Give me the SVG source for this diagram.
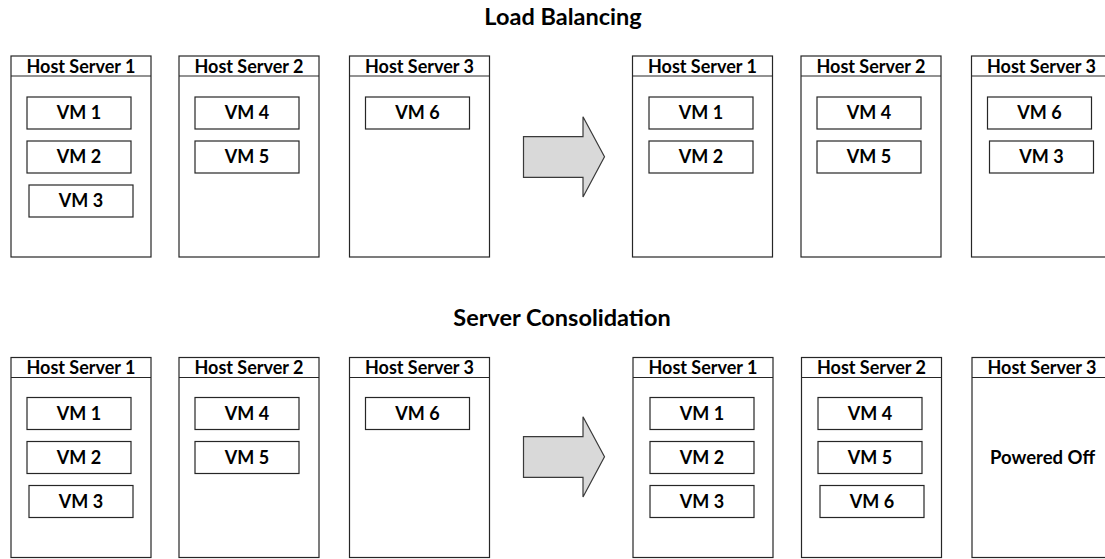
<svg xmlns="http://www.w3.org/2000/svg" width="1105" height="559" viewBox="0 0 1105 559">
  <style>
    .host { fill: #ffffff; stroke: #262626; stroke-width: 1.2; }
    .vm { fill: #ffffff; stroke: #262626; stroke-width: 1.2; }
    .hdr { stroke: #262626; stroke-width: 1.2; }
    text { font-family: Lato, "Liberation Sans", sans-serif; font-weight: bold; fill: #000000; text-anchor: middle; }
    .title { font-size: 23.5px; }
    .lbl { font-size: 18px; }
    .move { fill: #d9d9d9; stroke: #3a3a3a; stroke-width: 1.2; stroke-linejoin: miter; }
  </style>
  <rect width="1105" height="559" fill="#ffffff"/>

  <!-- Section titles -->
  <text class="title" x="563" y="25">Load Balancing</text>
  <text class="title" x="562" y="326">Server Consolidation</text>

  <!-- ===== Load Balancing: before ===== -->
  <g id="lb-before-host1">
    <rect class="host" x="11" y="56" width="140" height="201"/>
    <line class="hdr" x1="11" y1="76" x2="151" y2="76"/>
    <text class="lbl" x="81" y="72.5">Host Server 1</text>
    <g id="lb-before-vm1"><rect class="vm" x="27" y="97" width="104" height="32"/><text class="lbl" x="79" y="119">VM 1</text></g>
    <g id="lb-before-vm2"><rect class="vm" x="27" y="141" width="104" height="32"/><text class="lbl" x="79" y="163">VM 2</text></g>
    <g id="lb-before-vm3"><rect class="vm" x="29" y="185" width="104" height="32"/><text class="lbl" x="81" y="207">VM 3</text></g>
  </g>
  <g id="lb-before-host2">
    <rect class="host" x="179" y="56" width="140" height="201"/>
    <line class="hdr" x1="179" y1="76" x2="319" y2="76"/>
    <text class="lbl" x="249" y="72.5">Host Server 2</text>
    <g id="lb-before-vm4"><rect class="vm" x="195" y="97" width="104" height="32"/><text class="lbl" x="247" y="119">VM 4</text></g>
    <g id="lb-before-vm5"><rect class="vm" x="195" y="141" width="104" height="32"/><text class="lbl" x="247" y="163">VM 5</text></g>
  </g>
  <g id="lb-before-host3">
    <rect class="host" x="349.5" y="56" width="140" height="201"/>
    <line class="hdr" x1="349.5" y1="76" x2="489.5" y2="76"/>
    <text class="lbl" x="419.5" y="72.5">Host Server 3</text>
    <g id="lb-before-vm6"><rect class="vm" x="365.5" y="97" width="104" height="32"/><text class="lbl" x="417.5" y="119">VM 6</text></g>
  </g>

  <!-- ===== Load Balancing: after ===== -->
  <g id="lb-after-host1">
    <rect class="host" x="632.5" y="56" width="140" height="201"/>
    <line class="hdr" x1="632.5" y1="76" x2="772.5" y2="76"/>
    <text class="lbl" x="702.5" y="72.5">Host Server 1</text>
    <g id="lb-after-vm1"><rect class="vm" x="649" y="97" width="104" height="32"/><text class="lbl" x="701" y="119">VM 1</text></g>
    <g id="lb-after-vm2"><rect class="vm" x="649" y="141" width="104" height="32"/><text class="lbl" x="701" y="163">VM 2</text></g>
  </g>
  <g id="lb-after-host2">
    <rect class="host" x="801" y="56" width="140" height="201"/>
    <line class="hdr" x1="801" y1="76" x2="941" y2="76"/>
    <text class="lbl" x="871" y="72.5">Host Server 2</text>
    <g id="lb-after-vm4"><rect class="vm" x="817" y="97" width="104" height="32"/><text class="lbl" x="869" y="119">VM 4</text></g>
    <g id="lb-after-vm5"><rect class="vm" x="817" y="141" width="104" height="32"/><text class="lbl" x="869" y="163">VM 5</text></g>
  </g>
  <g id="lb-after-host3">
    <rect class="host" x="971.5" y="56" width="140" height="201"/>
    <line class="hdr" x1="971.5" y1="76" x2="1111.5" y2="76"/>
    <text class="lbl" x="1041.5" y="72.5">Host Server 3</text>
    <g id="lb-after-vm6"><rect class="vm" x="987.5" y="97" width="104" height="32"/><text class="lbl" x="1039.5" y="119">VM 6</text></g>
    <g id="lb-after-vm3"><rect class="vm" x="989.5" y="141" width="104" height="32"/><text class="lbl" x="1041.5" y="163">VM 3</text></g>
  </g>

  <!-- ===== Server Consolidation: before ===== -->
  <g id="sc-before-host1">
    <rect class="host" x="11" y="357.5" width="140" height="200"/>
    <line class="hdr" x1="11" y1="377.5" x2="151" y2="377.5"/>
    <text class="lbl" x="81" y="374">Host Server 1</text>
    <g id="sc-before-vm1"><rect class="vm" x="27" y="397.5" width="104" height="32"/><text class="lbl" x="79" y="419.5">VM 1</text></g>
    <g id="sc-before-vm2"><rect class="vm" x="27" y="441.5" width="104" height="32"/><text class="lbl" x="79" y="463.5">VM 2</text></g>
    <g id="sc-before-vm3"><rect class="vm" x="29" y="485.5" width="104" height="32"/><text class="lbl" x="81" y="507.5">VM 3</text></g>
  </g>
  <g id="sc-before-host2">
    <rect class="host" x="179" y="357.5" width="140" height="200"/>
    <line class="hdr" x1="179" y1="377.5" x2="319" y2="377.5"/>
    <text class="lbl" x="249" y="374">Host Server 2</text>
    <g id="sc-before-vm4"><rect class="vm" x="195" y="397.5" width="104" height="32"/><text class="lbl" x="247" y="419.5">VM 4</text></g>
    <g id="sc-before-vm5"><rect class="vm" x="195" y="441.5" width="104" height="32"/><text class="lbl" x="247" y="463.5">VM 5</text></g>
  </g>
  <g id="sc-before-host3">
    <rect class="host" x="349.5" y="357.5" width="140" height="200"/>
    <line class="hdr" x1="349.5" y1="377.5" x2="489.5" y2="377.5"/>
    <text class="lbl" x="419.5" y="374">Host Server 3</text>
    <g id="sc-before-vm6"><rect class="vm" x="365.5" y="397.5" width="104" height="32"/><text class="lbl" x="417.5" y="419.5">VM 6</text></g>
  </g>

  <!-- ===== Server Consolidation: after ===== -->
  <g id="sc-after-host1">
    <rect class="host" x="633" y="357.5" width="140" height="200"/>
    <line class="hdr" x1="633" y1="377.5" x2="773" y2="377.5"/>
    <text class="lbl" x="703" y="374">Host Server 1</text>
    <g id="sc-after-vm1"><rect class="vm" x="650" y="397.5" width="104" height="32"/><text class="lbl" x="702" y="419.5">VM 1</text></g>
    <g id="sc-after-vm2"><rect class="vm" x="650" y="441.5" width="104" height="32"/><text class="lbl" x="702" y="463.5">VM 2</text></g>
    <g id="sc-after-vm3"><rect class="vm" x="650" y="485.5" width="104" height="32"/><text class="lbl" x="702" y="507.5">VM 3</text></g>
  </g>
  <g id="sc-after-host2">
    <rect class="host" x="801.5" y="357.5" width="140" height="200"/>
    <line class="hdr" x1="801.5" y1="377.5" x2="941.5" y2="377.5"/>
    <text class="lbl" x="871.5" y="374">Host Server 2</text>
    <g id="sc-after-vm4"><rect class="vm" x="818" y="397.5" width="104" height="32"/><text class="lbl" x="870" y="419.5">VM 4</text></g>
    <g id="sc-after-vm5"><rect class="vm" x="818" y="441.5" width="104" height="32"/><text class="lbl" x="870" y="463.5">VM 5</text></g>
    <g id="sc-after-vm6"><rect class="vm" x="820" y="485.5" width="104" height="32"/><text class="lbl" x="872" y="507.5">VM 6</text></g>
  </g>
  <g id="sc-after-host3">
    <rect class="host" x="972" y="357.5" width="140" height="200"/>
    <line class="hdr" x1="972" y1="377.5" x2="1112" y2="377.5"/>
    <text class="lbl" x="1042" y="374">Host Server 3</text>
    <text class="lbl" x="1042.5" y="464" style="font-size:18.5px">Powered Off</text>
  </g>

  <!-- Block arrows between before/after states -->
  <g id="connectors">
    <polygon class="move" points="523.5,136.7 583,136.7 583,116.7 604.5,156.7 583,197 583,177.3 523.5,177.3"/>
    <polygon class="move" points="523.5,436.7 583,436.7 583,416.7 604.5,456.7 583,497 583,477.3 523.5,477.3"/>
  </g>
</svg>
